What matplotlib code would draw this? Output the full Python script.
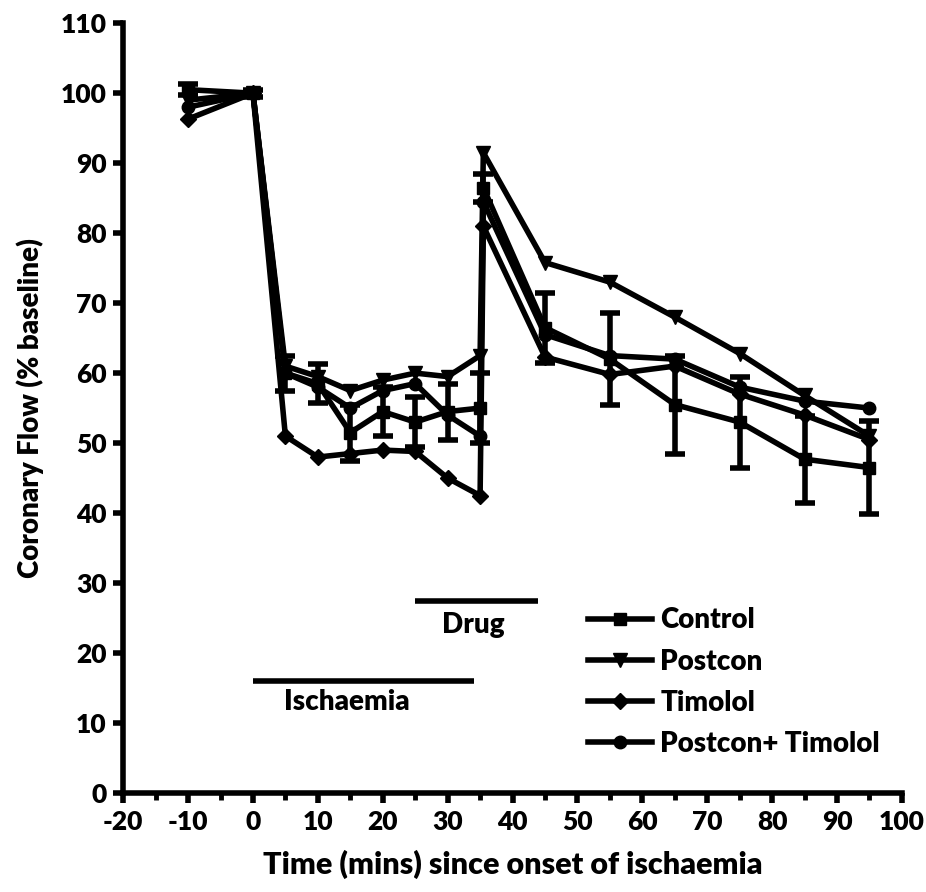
import matplotlib
matplotlib.use("Agg")
import matplotlib.pyplot as plt
from matplotlib.ticker import MultipleLocator
from matplotlib.lines import Line2D

plt.rcParams['font.family'] = ['Lato', 'DejaVu Sans']
plt.rcParams['font.weight'] = 'heavy'
plt.rcParams['axes.unicode_minus'] = False

time = [-10, 0, 5, 10, 15, 20, 25, 30, 35, 35.5, 45, 55, 65, 75, 85, 95]
control = [100.5, 100, 60, 58.5, 51.5, 54.5, 53, 54.5, 55, 86.5, 66.5, 62, 55.5, 53, 47.7, 46.5]
control_err = [0.8, 0.5, 2.5, 2.8, 4, 3.5, 3.6, 4, 5, 2, 5, 6.6, 7, 6.5, 6.2, 6.7]
postcon = [99, 100, 61, 59.5, 57.5, 59, 60, 59.5, 62.5, 91.5, 75.8, 73, 68, 62.8, 56.8, 51]
timolol = [96.3, 100, 51, 48, 48.5, 49, 48.8, 45, 42.5, 81, 62.3, 59.8, 61, 57, 54, 50.5]
post_tim = [98, 100, 60, 58, 55, 57.5, 58.5, 54, 51, 84.5, 65.5, 62.5, 62, 58, 56, 55]

labels = ['Control', 'Postcon', 'Timolol', 'Postcon+ Timolol']
markers = ['s', 'v', 'D', 'o']
msizes = [9, 10, 8, 9]

fig = plt.figure(figsize=(9.26, 8.92), dpi=100)
ax = fig.add_axes([0.133, 0.111, 0.841, 0.863])

lw = 4
ax.errorbar(time, control, yerr=control_err, color='black', lw=lw, marker='s', ms=9,
            capsize=7, capthick=4, elinewidth=4, zorder=4)
ax.plot(time, postcon, color='black', lw=lw, marker='v', ms=10, zorder=3)
ax.plot(time, timolol, color='black', lw=lw, marker='D', ms=8, zorder=3)
ax.plot(time, post_tim, color='black', lw=lw, marker='o', ms=9, zorder=3)

# protocol bars
ax.plot([25, 44], [27.5, 27.5], color='black', lw=4, solid_capstyle='butt')
ax.text(34, 24, 'Drug', ha='center', va='center', fontsize=20, fontweight='heavy')
ax.plot([0, 34], [16, 16], color='black', lw=4, solid_capstyle='butt')
ax.text(14.5, 13.0, 'Ischaemia', ha='center', va='center', fontsize=20, fontweight='heavy')

ax.set_xlim(-20, 100)
ax.set_ylim(0, 110)
ax.xaxis.set_major_locator(MultipleLocator(10))
ax.xaxis.set_minor_locator(MultipleLocator(5))
ax.yaxis.set_major_locator(MultipleLocator(10))
for s in ['top', 'right']:
    ax.spines[s].set_visible(False)
for s in ['left', 'bottom']:
    ax.spines[s].set_linewidth(4)
ax.tick_params(axis='both', which='major', direction='out', length=7, width=4, labelsize=19, pad=5)
ax.tick_params(axis='x', which='minor', direction='out', length=5, width=3.5)
for lab in ax.get_xticklabels() + ax.get_yticklabels():
    lab.set_fontweight('heavy')

ax.set_xlabel('Time (mins) since onset of ischaemia', fontsize=22, fontweight='heavy', labelpad=12)
ax.set_ylabel('Coronary Flow (% baseline)', fontsize=20, fontweight='heavy', labelpad=12)

handles = [Line2D([], [], color='black', lw=lw, marker=m, ms=s) for m, s in zip(markers, msizes)]
ax.legend(handles, labels, loc='lower left', bbox_to_anchor=(0.565, 0.014), frameon=False,
          handlelength=2.3, labelspacing=0.55, handletextpad=0.3,
          prop={'weight': 'heavy', 'size': 20})

fig.savefig('out.png', dpi=100)
